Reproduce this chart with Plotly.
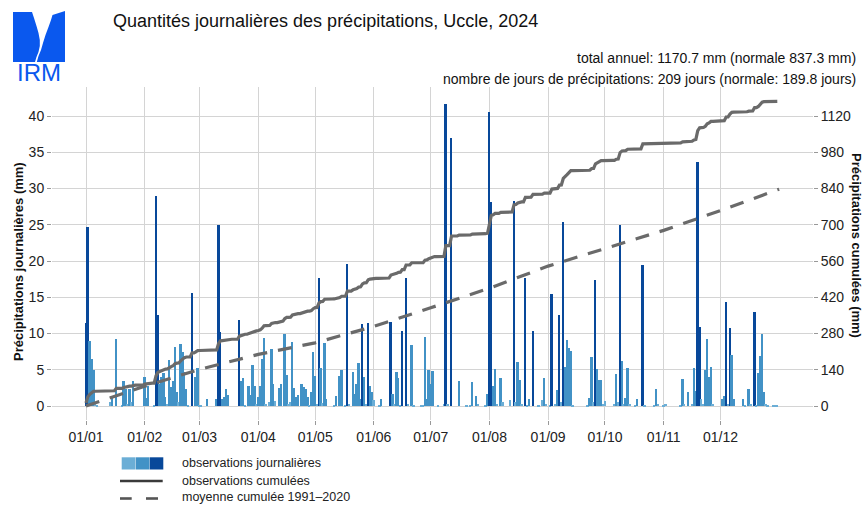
import numpy as np
import pandas as pd
import plotly.graph_objects as go

# ---------------- data (mm per day, Uccle 2024) ----------------
jan = [11.4, 24.7, 9.0, 6.5, 5.0, 0.3, 0.2, 0, 0, 0, 0, 0, 0, 0.5, 1.3, 0, 9.2, 0, 0, 0.1,
       3.4, 2.4, 0.3, 2.3, 0.5, 3.4, 0, 0, 0, 0, 0]
feb = [4.0, 1.1, 2.7, 0, 0, 0.1, 29.0, 12.5, 3.1, 4.0, 4.5, 1.3, 0.3, 6.3, 2.6, 3.5, 8.1, 2.0,
       0.5, 8.6, 7.4, 4.7, 2.4, 0.2, 0, 15.6, 0, 4.0, 5.2]
mar = [0.2, 0.2, 0, 0, 1.0, 0, 0, 0, 0, 1.0, 25.0, 10.2, 1.0, 1.3, 2.3, 1.5, 0, 0, 0, 0, 0,
       11.9, 3.4, 3.8, 0.2, 0, 2.7, 1.5, 5.7, 2.7, 0.3]
apr = [1.3, 2.7, 6.5, 9.4, 0.3, 0, 0.5, 7.8, 3.1, 0.7, 0, 2.5, 3.0, 0, 9.9, 4.3, 0.3, 0.5,
       8.8, 2.5, 1.3, 1.5, 0, 3.0, 2.6, 2.4, 1.3, 0.1, 2.0, 7.4]
may = [4.1, 0.3, 17.7, 5.2, 0.4, 8.7, 1.0, 0, 0, 0, 0.2, 1.4, 0, 4.1, 5.0, 0, 0.2, 19.6, 0.3,
       0, 4.7, 1.7, 3.1, 5.9, 1.0, 11.3, 4.0, 0.3, 11.5, 2.7, 2.0]
jun = [0.8, 0, 0, 0.2, 1.0, 0, 0, 0, 0, 11.6, 1.7, 0.3, 4.7, 3.9, 0.2, 10.4, 0, 17.6, 0.3, 0,
       8.4, 0.2, 0, 0, 0, 0.1, 0.2, 9.5, 1.0, 4.9]
jul = [3.1, 4.8, 0, 0, 0.2, 0, 0, 0.3, 41.7, 0.3, 0, 37.0, 0, 0, 0, 3.4, 0, 0, 0, 0.2, 0, 0.2,
       3.3, 0, 1.4, 0.3, 0, 0, 0, 0.1, 1.7]
aug = [40.6, 28.2, 2.7, 5.1, 0.3, 0, 3.8, 0.5, 0, 0, 0, 0.8, 0, 28.3, 0.5, 6.1, 3.6, 0.3, 0,
       17.7, 0.1, 1.0, 0, 10.3, 0, 0, 0.2, 0, 0.8, 3.8, 0.3]
sep = [0, 0.2, 15.4, 0, 0.3, 2.2, 12.6, 0.5, 25.4, 5.4, 9.1, 8.0, 7.6, 0.2, 0, 0, 0, 0, 0, 0,
       0, 0.2, 1.1, 6.8, 0.5, 17.4, 5.1, 3.6, 3.6, 0.3]
oct = [0.7, 0, 0, 0, 0, 0.3, 4.4, 0.5, 25.0, 6.2, 0.3, 1.1, 5.3, 0.3, 0, 0, 0.2, 1.0, 0, 0,
       19.4, 0.2, 0, 0, 0, 0, 0.2, 2.4, 0.3, 0, 0]
nov = [0.2, 0.3, 0, 0, 0, 0, 0, 0, 0, 0.2, 3.7, 0.3, 0, 1.9, 0, 0.3, 5.3, 2.1, 33.7, 10.9,
       0.9, 0.3, 4.9, 9.3, 4.0, 5.4, 0.3, 0, 0, 0]
dec = [0, 1.0, 1.4, 14.4, 0.3, 10.7, 7.0, 1.0, 0, 0, 0, 0, 1.0, 0.2, 0, 2.4, 0.3, 0, 12.9,
       0.2, 4.5, 6.9, 9.9, 2.0, 0.3, 0.2, 0, 0, 0.2, 0.2, 0.1]

# normal monthly precipitation 1991-2020 (mm)
normal_monthly = [76.1, 65.4, 57.9, 44.6, 63.4, 72.0, 75.5, 85.4, 66.4, 71.6, 76.8, 82.2]

month_tick_dates = ["2024-01-01", "2024-02-01", "2024-03-01", "2024-04-01", "2024-05-01",
                    "2024-06-01", "2024-07-01", "2024-08-01", "2024-09-01", "2024-10-01",
                    "2024-11-01", "2024-12-01"]
month_tick_text = ["01/01", "01/02", "01/03", "01/04", "01/05", "01/06",
                   "01/07", "01/08", "01/09", "01/10", "01/11", "01/12"]
left_ticks = [0, 5, 10, 15, 20, 25, 30, 35, 40]
right_ticks = [0, 140, 280, 420, 560, 700, 840, 980, 1120]

title_text = "Quantités journalières des précipitations, Uccle, 2024"
info1 = "total annuel: 1170.7 mm (normale 837.3 mm)"
info2 = "nombre de jours de précipitations: 209 jours (normale: 189.8 jours)"
legend_labels = ["observations journalières", "observations cumulées", "moyenne cumulée 1991\u20132020"]

# ---------------- derived ----------------
daily = np.array(jan + feb + mar + apr + may + jun + jul + aug + sep + oct + nov + dec)
dates = pd.date_range("2024-01-01", "2024-12-31", freq="D")
cum = np.cumsum(daily)
normal_dates = pd.date_range("2024-01-01", "2025-01-01", freq="MS")
normal_cum = np.concatenate([[0], np.cumsum(normal_monthly)])

C_LIGHT, C_MED, C_DARK = "#6baed6", "#4292c6", "#08489a"
colors = [C_LIGHT if v < 1 else (C_MED if v < 10 else C_DARK) for v in daily]

# ---------------- geometry ----------------
W, H = 866, 505
ML, MR, MT, MB = 52, 53, 87, 85
PW, PH = W - ML - MR, H - MT - MB
def px(x): return (x - ML) / PW
def py(y): return (H - MB - y) / PH

RATIO = 28.0
y_lo, y_hi = -1.93, 44.0
day0 = pd.Timestamp("2024-01-01")
x_lo = day0 + pd.Timedelta(days=-17.95)
x_hi = day0 + pd.Timedelta(days=383.85)

FONT = "Liberation Sans, Arial, sans-serif"
GRID = "#d4d4d4"

fig = go.Figure()
fig.add_trace(go.Bar(x=dates, y=daily, marker=dict(color=colors, line=dict(width=0)),
                     width=86400000, yaxis="y", hoverinfo="skip"))
fig.add_trace(go.Scatter(x=normal_dates, y=normal_cum, mode="lines", yaxis="y2",
                         line=dict(color="#6a6a6a", width=3.2, dash="14px,11px"),
                         hoverinfo="skip"))
fig.add_trace(go.Scatter(x=dates, y=cum, mode="lines", yaxis="y2",
                         line=dict(color="#6a6a6a", width=3.2), hoverinfo="skip"))

shapes = []
# logo graphic
logo_blue = "#0a58ee"
def path(points):
    s = "M %f,%f" % (px(points[0][0]), py(points[0][1]))
    for p in points[1:]:
        s += " L %f,%f" % (px(p[0]), py(p[1]))
    return s + " Z"
left_logo = [(13, 12), (32, 12), (34, 18), (36.5, 26), (38.5, 33), (39.8, 40), (39.8, 46),
             (38.5, 52), (36.5, 57), (35, 62), (13, 62)]
right_logo = [(52.5, 15), (65, 11), (65, 62), (36.8, 62), (38.5, 56), (41, 50), (43, 43),
              (45.5, 35), (48.5, 27), (51, 20)]
for pts in (left_logo, right_logo):
    shapes.append(dict(type="path", xref="paper", yref="paper", path=path(pts),
                       fillcolor=logo_blue, line=dict(width=0), layer="above"))
# legend swatches
for (x0, x1), c in zip([(121.7, 135.3), (135.7, 149.5), (149.8, 163.3)], [C_LIGHT, C_MED, C_DARK]):
    shapes.append(dict(type="rect", xref="paper", yref="paper", x0=px(x0), x1=px(x1),
                       y0=py(469.5), y1=py(457.3), fillcolor=c, line=dict(width=0)))
shapes.append(dict(type="line", xref="paper", yref="paper", x0=px(120), x1=px(162.7),
                   y0=py(481), y1=py(481), line=dict(color="#3a3a3a", width=2.6)))
for x0, x1 in [(120, 131.7), (146, 158)]:
    shapes.append(dict(type="line", xref="paper", yref="paper", x0=px(x0), x1=px(x1),
                       y0=py(498.5), y1=py(498.5), line=dict(color="#555555", width=2.6)))

ann = []
ann.append(dict(text="IRM", xref="paper", yref="paper", x=px(39), y=py(72.5),
                xanchor="center", yanchor="middle", showarrow=False,
                font=dict(family=FONT, size=24, color=logo_blue)))
ann.append(dict(text=info1, xref="paper", yref="paper", x=px(858), y=py(58),
                xanchor="right", yanchor="middle", showarrow=False,
                font=dict(family=FONT, size=14, color="#111")))
ann.append(dict(text=info2, xref="paper", yref="paper", x=px(858), y=py(79),
                xanchor="right", yanchor="middle", showarrow=False,
                font=dict(family=FONT, size=14, color="#111")))
ann.append(dict(text="<b>Précipitations journalières (mm)</b>", xref="paper", yref="paper",
                x=px(18), y=py(262), textangle=-90, xanchor="center", yanchor="middle",
                showarrow=False, font=dict(family=FONT, size=13, color="#111")))
ann.append(dict(text="<b>Précipitations cumulées (mm)</b>", xref="paper", yref="paper",
                x=px(857), y=py(245), textangle=90, xanchor="center", yanchor="middle",
                showarrow=False, font=dict(family=FONT, size=13, color="#111")))
for lab, yy in zip(legend_labels, [463.3, 481.2, 497.3]):
    ann.append(dict(text=lab, xref="paper", yref="paper", x=px(180), y=py(yy),
                    xanchor="left", yanchor="middle", showarrow=False,
                    font=dict(family=FONT, size=12.5, color="#222")))

fig.update_layout(
    width=W, height=H, margin=dict(l=ML, r=MR, t=MT, b=MB, autoexpand=False),
    paper_bgcolor="white", plot_bgcolor="white", showlegend=False, bargap=0,
    font=dict(family=FONT, size=13, color="#222"),
    title=dict(text=title_text, x=113 / W, xanchor="left", xref="container",
               y=1 - 21 / H, yanchor="middle", font=dict(family=FONT, size=18, color="#111")),
    xaxis=dict(type="date", range=[x_lo, x_hi], tickvals=month_tick_dates,
               ticktext=month_tick_text, showgrid=True, gridcolor=GRID, gridwidth=1,
               ticks="outside", ticklen=4, tickcolor="#999", showline=False, zeroline=False,
               tickfont=dict(family=FONT, size=14, color="#222")),
    yaxis=dict(range=[y_lo, y_hi], tickvals=left_ticks, showgrid=True, gridcolor=GRID,
               gridwidth=1, ticks="outside", ticklen=4, tickcolor="#999", zeroline=False,
               showline=False, tickfont=dict(family=FONT, size=14, color="#222")),
    yaxis2=dict(range=[y_lo * RATIO, y_hi * RATIO], tickvals=right_ticks, overlaying="y",
                side="right", showgrid=False, ticks="outside", ticklen=4, tickcolor="#999",
                zeroline=False, showline=False,
                tickfont=dict(family=FONT, size=14, color="#222")),
    shapes=shapes, annotations=ann,
)

fig.write_html("out.html", config={"displayModeBar": False},
               post_script="document.body.style.margin='0';document.body.style.padding='0';")
